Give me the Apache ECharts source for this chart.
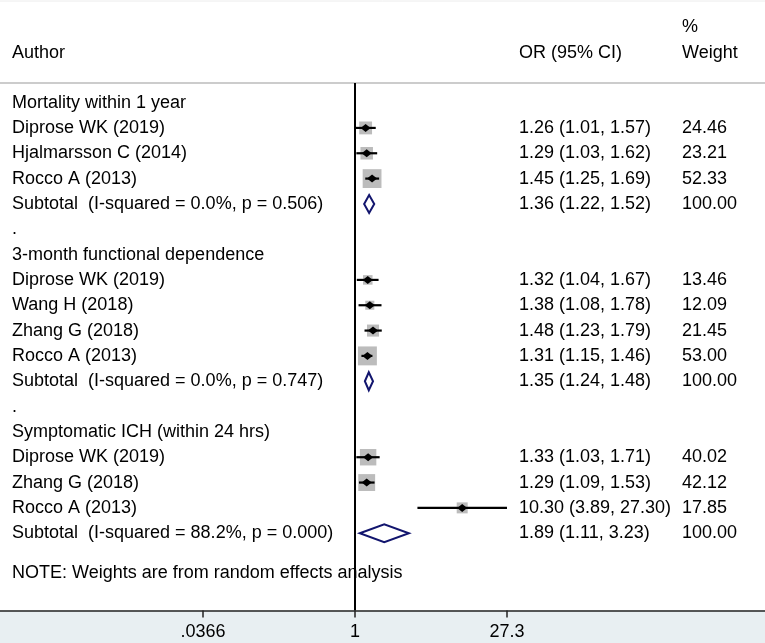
<!DOCTYPE html>
<html>
<head>
<meta charset="utf-8">
<script src="https://cdn.jsdelivr.net/npm/echarts@6/dist/echarts.min.js"></script>
<style>
  html, body { margin: 0; padding: 0; background: #fff; }
  #chart { width: 765px; height: 643px; }
</style>
</head>
<body>
<div id="chart"></div>
<script>
// rows of the forest plot, top to bottom
var rowLabels = [
  'Mortality within 1 year',
  'Diprose WK (2019)',
  'Hjalmarsson C (2014)',
  'Rocco A (2013)',
  'Subtotal  (I-squared = 0.0%, p = 0.506)',
  '.',
  '3-month functional dependence',
  'Diprose WK (2019)',
  'Wang H (2018)',
  'Zhang G (2018)',
  'Rocco A (2013)',
  'Subtotal  (I-squared = 0.0%, p = 0.747)',
  '.',
  'Symptomatic ICH (within 24 hrs)',
  'Diprose WK (2019)',
  'Zhang G (2018)',
  'Rocco A (2013)',
  'Subtotal  (I-squared = 88.2%, p = 0.000)'
];
// h = group heading, s = study, t = subtotal, g = gap
var rowKind = ['h', 's', 's', 's', 't', 'g', 'h', 's', 's', 's', 's', 't', 'g', 'h', 's', 's', 's', 't'];
var orEst  = [null, 1.26, 1.29, 1.45, 1.36, null, null, 1.32, 1.38, 1.48, 1.31, 1.35, null, null, 1.33, 1.29, 10.30, 1.89];
var orLow  = [null, 1.01, 1.03, 1.25, 1.22, null, null, 1.04, 1.08, 1.23, 1.15, 1.24, null, null, 1.03, 1.09, 3.89, 1.11];
var orHigh = [null, 1.57, 1.62, 1.69, 1.52, null, null, 1.67, 1.78, 1.79, 1.46, 1.48, null, null, 1.71, 1.53, 27.30, 3.23];
var weights = [null, 24.46, 23.21, 52.33, 100.00, null, null, 13.46, 12.09, 21.45, 53.00, 100.00, null, null, 40.02, 42.12, 17.85, 100.00];

var tickValues = [0.0366, 1, 27.3];
var tickLabels = ['.0366', '1', '27.3'];

var noteText = 'NOTE: Weights are from random effects analysis';

// layout (pixels)
var W = 765, H = 643;
var HEAD_Y = 83, AXIS_Y = 610.5;
var ROW0 = 102.6, ROW_H = 25.33;
var NULL_X = 355, PX_PER_LN = 45.96;
var LEFT_X = 12, OR_X = 519, WT_X = 682;
var FONT = '18px "Liberation Sans", Arial, sans-serif';

var xMin = -NULL_X / PX_PER_LN;
var xMax = (W - NULL_X) / PX_PER_LN;
var yMin = -(ROW0 - HEAD_Y) / ROW_H;
var yMax = (AXIS_Y - ROW0) / ROW_H;

var logTicks = tickValues.map(function (v) { return Math.log(v); });

function renderItem(params, api) {
  var i = params.dataIndex;
  var y = api.coord([0, i])[1];
  var children = [];
  children.push({
    type: 'text',
    style: { text: rowLabels[i], x: LEFT_X, y: y, verticalAlign: 'middle', font: FONT, fill: '#000' }
  });
  if (orEst[i] == null) {
    return { type: 'group', children: children };
  }
  var cx = api.coord([Math.log(orEst[i]), i])[0];
  var x1 = api.coord([Math.log(orLow[i]), i])[0];
  var x2 = api.coord([Math.log(orHigh[i]), i])[0];

  if (rowKind[i] === 's') {
    // box area follows the study weight
    var side = 2.6 * Math.sqrt(weights[i]);
    children.push({
      type: 'rect',
      shape: { x: cx - side / 2, y: y - side / 2, width: side, height: side },
      style: { fill: '#bcbcbc' }
    });
    children.push({
      type: 'line',
      shape: { x1: x1, y1: y, x2: x2, y2: y },
      style: { stroke: '#000', lineWidth: 2.2 }
    });
    children.push({
      type: 'polygon',
      shape: { points: [[cx - 5, y], [cx, y - 4], [cx + 5, y], [cx, y + 4]] },
      style: { fill: '#000' }
    });
  } else {
    children.push({
      type: 'polygon',
      shape: { points: [[x1, y], [cx, y - 9], [x2, y], [cx, y + 9]] },
      style: { fill: 'none', stroke: '#12156e', lineWidth: 2 }
    });
  }

  var orText = orEst[i].toFixed(2) + ' (' + orLow[i].toFixed(2) + ', ' + orHigh[i].toFixed(2) + ')';
  children.push({
    type: 'text',
    style: { text: orText, x: OR_X, y: y, verticalAlign: 'middle', font: FONT, fill: '#000' }
  });
  children.push({
    type: 'text',
    style: { text: weights[i].toFixed(2), x: WT_X, y: y, verticalAlign: 'middle', font: FONT, fill: '#000' }
  });
  return { type: 'group', children: children };
}

var chart = echarts.init(document.getElementById('chart'), null, { renderer: 'canvas' });

var option = {
  backgroundColor: '#fff',
  animation: false,
  grid: { left: 0, right: 0, top: HEAD_Y, bottom: H - AXIS_Y, containLabel: false },
  xAxis: {
    type: 'value',
    min: xMin,
    max: xMax,
    z: 5,
    axisLine: { show: true, onZero: false, lineStyle: { color: '#222', width: 1.5 } },
    axisTick: { show: true, customValues: logTicks, length: 7, lineStyle: { color: '#222', width: 1.5 } },
    axisLabel: {
      customValues: logTicks,
      margin: 13,
      color: '#000',
      fontSize: 18,
      fontFamily: '"Liberation Sans", Arial, sans-serif',
      formatter: function (v) {
        for (var k = 0; k < logTicks.length; k++) {
          if (Math.abs(logTicks[k] - v) < 1e-6) return tickLabels[k];
        }
        return '';
      }
    },
    splitLine: { show: false }
  },
  yAxis: { type: 'value', inverse: true, min: yMin, max: yMax, show: false },
  graphic: [
    { type: 'rect', z: -10, shape: { x: 0, y: AXIS_Y, width: W, height: H - AXIS_Y }, style: { fill: '#e8eff2' } },
    { type: 'line', shape: { x1: 0, y1: 1, x2: W, y2: 1 }, style: { stroke: '#ececec', lineWidth: 1 } },
    { type: 'line', shape: { x1: 0, y1: HEAD_Y, x2: W, y2: HEAD_Y }, style: { stroke: '#cccccc', lineWidth: 2 } },
    { type: 'text', style: { text: '%', x: WT_X, y: 27.5, verticalAlign: 'middle', font: FONT, fill: '#000' } },
    { type: 'text', style: { text: 'Author', x: LEFT_X, y: 53.5, verticalAlign: 'middle', font: FONT, fill: '#000' } },
    { type: 'text', style: { text: 'OR (95% CI)', x: OR_X, y: 53.5, verticalAlign: 'middle', font: FONT, fill: '#000' } },
    { type: 'text', style: { text: 'Weight', x: WT_X, y: 53.5, verticalAlign: 'middle', font: FONT, fill: '#000' } },
    { type: 'text', style: { text: noteText, x: LEFT_X, y: 573, verticalAlign: 'middle', font: FONT, fill: '#000' } }
  ],
  series: [
    {
      type: 'custom',
      clip: false,
      renderItem: renderItem,
      encode: { x: 0, y: 1 },
      data: rowLabels.map(function (lab, i) {
        return [orEst[i] != null ? Math.log(orEst[i]) : 0, i];
      }),
      markLine: {
        silent: true,
        symbol: ['none', 'none'],
        label: { show: false },
        lineStyle: { color: '#000', width: 2, type: 'solid' },
        data: [{ xAxis: 0 }]
      }
    }
  ]
};

chart.setOption(option);
</script>
</body>
</html>
